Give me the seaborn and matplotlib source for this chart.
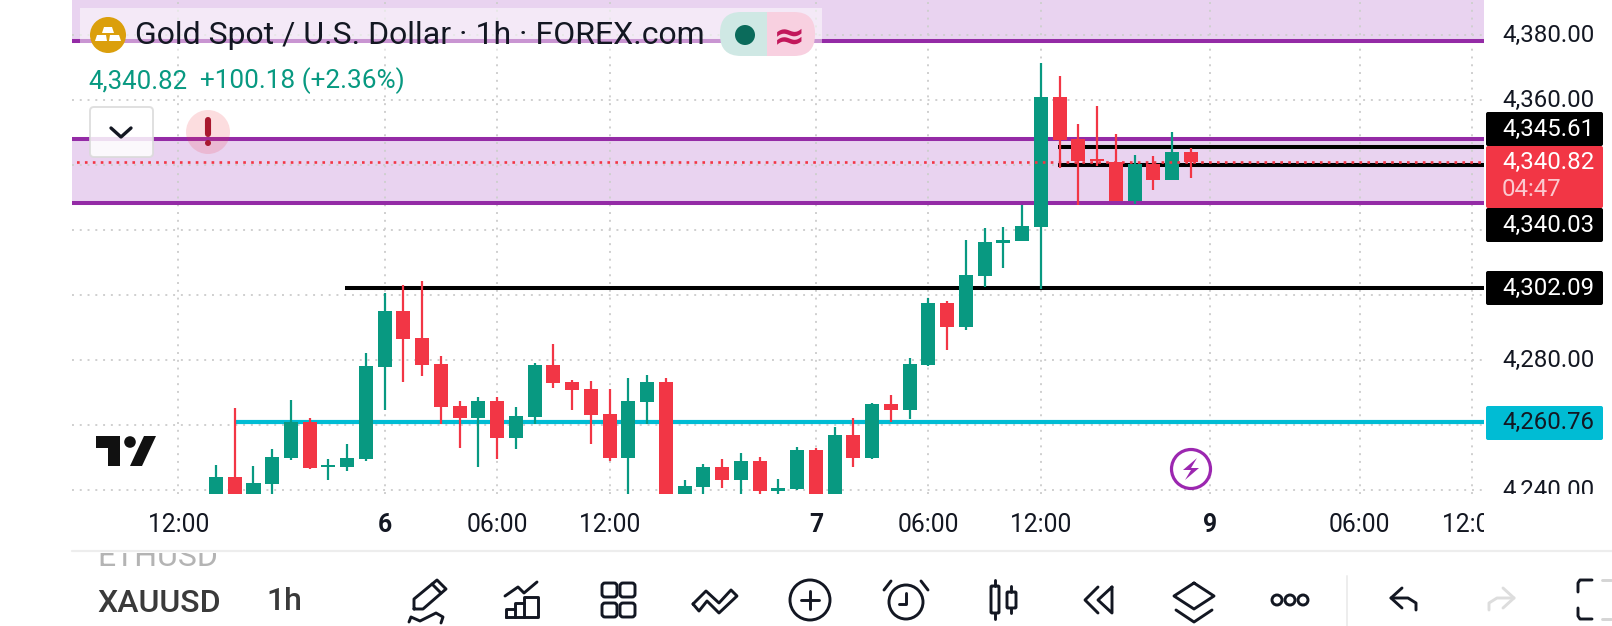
import pandas as pd
import matplotlib
matplotlib.use("Agg")
import matplotlib.pyplot as plt
import seaborn as sns
from matplotlib.patches import Circle, FancyBboxPatch, Polygon, Rectangle
from matplotlib.transforms import Bbox, ScaledTranslation

# --- candle values (bar number = hours on the 1h axis) ---
opens = [4237.5, 4243.94, 4237.5, 4241.79, 4249.79, 4260.86, 4247.0, 4247.02, 4249.48, 4277.79,
         4295.02, 4286.71, 4278.71, 4265.79, 4262.09, 4267.33, 4255.94, 4262.40, 4278.40, 4273.17,
         4271.02, 4263.33, 4249.79, 4267.02, 4273.17, 4237.5, 4240.86, 4247.02, 4243.02, 4248.86,
         4239.63, 4240.25, 4252.25, 4237.5, 4256.86, 4249.79, 4266.40, 4264.56, 4278.40, 4297.48,
         4290.09, 4305.78, 4316.04, 4316.55, 4320.86, 4360.86, 4347.94, 4341.9, 4340.86, 4328.86,
         4340.24, 4335.32, 4343.94]
highs = [4247.63, 4265.07, 4247.33, 4252.56, 4267.63, 4262.09, 4249.48, 4254.09, 4282.09, 4300.56,
         4303.02, 4304.25, 4281.17, 4267.33, 4268.56, 4268.56, 4265.48, 4279.02, 4284.86, 4273.79,
         4273.48, 4271.02, 4274.40, 4275.33, 4274.40, 4243.02, 4247.94, 4249.48, 4251.33, 4250.10,
         4243.33, 4253.17, 4252.86, 4259.33, 4261.99, 4266.60, 4269.17, 4280.56, 4299.02, 4298.09,
         4316.86, 4320.45, 4320.86, 4327.63, 4371.32, 4367.32, 4352.55, 4358.09, 4349.47, 4343.01,
         4342.70, 4350.09, 4345.17]
lows = [4236.0, 4236.0, 4236.0, 4238.0, 4249.17, 4246.40, 4243.02, 4245.79, 4248.86, 4264.56,
        4273.17, 4275.02, 4260.25, 4252.86, 4247.02, 4249.48, 4252.56, 4260.25, 4271.33, 4264.56,
        4254.09, 4248.86, 4236.0, 4260.25, 4236.0, 4236.5, 4238.5, 4240.56, 4238.0, 4238.0,
        4238.0, 4240.0, 4236.5, 4236.5, 4247.02, 4249.48, 4260.86, 4261.79, 4278.09, 4283.02,
        4289.17, 4302.50, 4308.24, 4316.55, 4301.78, 4339.01, 4327.63, 4339.63, 4328.86, 4327.94,
        4332.24, 4335.32, 4335.94]
closes = [4243.94, 4237.5, 4242.09, 4250.09, 4260.86, 4246.71, 4247.63, 4249.79, 4278.09, 4295.02,
          4286.40, 4278.40, 4265.48, 4262.09, 4267.33, 4255.94, 4262.71, 4278.40, 4272.86, 4270.71,
          4263.02, 4249.79, 4267.33, 4273.17, 4237.5, 4241.17, 4247.02, 4243.02, 4248.86, 4239.63,
          4240.56, 4252.25, 4237.5, 4256.86, 4249.79, 4266.40, 4264.56, 4278.71, 4297.48, 4290.09,
          4306.09, 4316.24, 4316.86, 4321.17, 4360.86, 4347.63, 4341.17, 4341.2, 4328.86, 4340.24,
          4335.32, 4343.94, 4340.82]

# horizontal levels drawn on the chart
purple_levels = [4378.09, 4347.94, 4328.25]
black_levels = [4345.61, 4340.03, 4302.09]
black_starts = [44.9, 44.9, 6.9]
cyan_level = 4260.76
cyan_start = 1
last_price = 4340.82

# axis ticks; the other price labels sit behind the tags in the picture
price_ticks = [4240, 4260, 4280, 4300, 4320, 4340, 4360, 4380]
shown_prices = [4240, 4280, 4360, 4380]
time_ticks = [-2, 9, 15, 21, 32, 38, 44, 53, 61, 67]
time_labels = ["12:00", "6", "06:00", "12:00", "7", "06:00", "12:00", "9", "06:00", "12:00"]
day_labels = ["6", "7", "9"]

GREEN = "#089981"
RED = "#F23645"
PURPLE = "#942BA6"
BAND = "#E9D3F0"
CYAN = "#00BCD4"
INK = "#131722"
W, H = 1612, 626
CHART_L, CHART_R, CHART_B = 72, 1484, 494

sns.set_theme(style="white")
plt.rcParams["font.family"] = ["Roboto", "DejaVu Sans"]

fig = plt.figure(figsize=(W / 100, H / 100), dpi=100, facecolor="white")
ax = fig.add_axes([CHART_L / W, 1 - CHART_B / H, (CHART_R - CHART_L) / W, CHART_B / H])

candles = pd.DataFrame({"bar": range(len(opens)), "open": opens, "high": highs,
                        "low": lows, "close": closes})
candles["up"] = candles["close"] >= candles["open"]
candles["edge"] = candles[["open", "close"]].min(axis=1)
candles["body"] = (candles["open"] - candles["close"]).abs()
wicks = candles.melt(id_vars=["bar", "up"], value_vars=["high", "low"], value_name="price")

# bands and level lines sit under the candles
ax.axhspan(purple_levels[2], purple_levels[1], color=BAND, lw=0, zorder=0.4)
ax.axhspan(purple_levels[0], 4400, color=BAND, lw=0, zorder=0.4)
for level in purple_levels:
    ax.axhline(level, color=PURPLE, lw=2.9, zorder=1)
for level, start in zip(black_levels, black_starts):
    ax.plot([start, 70], [level, level], color="black", lw=2.9, zorder=1.2, solid_capstyle="butt")
ax.plot([cyan_start, 70], [cyan_level, cyan_level], color=CYAN, lw=3.0, zorder=1.2, solid_capstyle="butt")

for is_up, colour in [(True, GREEN), (False, RED)]:
    sns.lineplot(data=wicks[wicks["up"] == is_up], x="bar", y="price", units="bar", estimator=None,
                 color=colour, linewidth=1.6, solid_capstyle="butt", legend=False, ax=ax, zorder=3)
    part = candles[candles["up"] == is_up]
    sns.barplot(data=part, x="bar", y="body", bottom=part["edge"].values, native_scale=True,
                width=14 / 18.75, color=colour, saturation=1, errorbar=None, linewidth=0, ax=ax, zorder=4)

ax.plot([-10, 70], [last_price, last_price], color=RED, lw=1.9, ls=(0, (1, 2)), zorder=5)

ax.set_xlim((CHART_L - 216) / 18.75, (CHART_R - 216) / 18.75)
ax.set_ylim(4300 + (294.8 - CHART_B) / 3.25, 4300 + 294.8 / 3.25)
ax.set_xlabel("")
ax.set_ylabel("")
ax.set_axisbelow(True)
ax.grid(True, color="#CFCFCF", lw=1.4, ls=(0, (1, 3)))
for side in ax.spines.values():
    side.set_visible(False)
ax.yaxis.tick_right()
ax.set_yticks(price_ticks)
ax.set_yticklabels([f"{p:,.2f}" if p in shown_prices else "" for p in price_ticks])
ax.set_xticks(time_ticks)
ax.set_xticklabels(time_labels)
ax.tick_params(axis="y", length=0, pad=13, labelsize=17.3, labelcolor=INK)
ax.tick_params(axis="x", length=0, pad=14, labelsize=17.7, labelcolor=INK)
for label in ax.get_xticklabels():
    if label.get_text() in day_labels:
        label.set_fontweight("bold")
    label.set_clip_on(True)
    label.set_clip_box(Bbox([[0, 0], [CHART_R, H]]))
for label in ax.get_yticklabels():
    label.set_transform(label.get_transform() + ScaledTranslation(0, 2 / 100, fig.dpi_scale_trans))
    label.set_clip_on(True)
    label.set_clip_box(Bbox([[0, H - CHART_B], [W, H]]))

# everything around the chart is screen furniture, placed in picture pixels
over = fig.add_axes([0, 0, 1, 1], zorder=10)
over.set_xlim(0, W)
over.set_ylim(H, 0)
over.axis("off")


def stroke(xs, ys, color=INK, lw=2.1):
    over.plot(xs, ys, color=color, lw=lw, solid_capstyle="round", solid_joinstyle="round")


def rbox(x0, y0, x1, y1, r, **kw):
    p = FancyBboxPatch((x0, y0), x1 - x0, y1 - y0, boxstyle=f"round,pad=0,rounding_size={r}", **kw)
    over.add_patch(p)
    return p


# legend block
over.add_patch(Rectangle((80, 8), 742, 48, color="white", alpha=0.5, lw=0))
over.add_patch(Circle((108, 35), 18, color="#DB9F0C", lw=0))
over.add_patch(Polygon([(104, 27), (112, 27), (114, 33), (102, 33)], color="white", lw=0))
over.add_patch(Polygon([(97, 35), (106, 35), (107, 41), (95, 41)], color="white", lw=0))
over.add_patch(Polygon([(110, 35), (119, 35), (121, 41), (109, 41)], color="white", lw=0))
over.text(135, 36, "Gold Spot / U.S. Dollar · 1h · FOREX.com", fontsize=23, color=INK, va="center")
pill = rbox(720, 12, 815, 56, 21, fc="none", ec="none")
left = Rectangle((720, 12), 47, 44, color="#CFE8E4", lw=0)
right = Rectangle((767, 12), 48, 44, color="#F8D0E0", lw=0)
for half in (left, right):
    over.add_patch(half)
    half.set_clip_path(pill)
over.add_patch(Circle((745, 35), 10, color="#0B6B5B", lw=0))
over.text(789, 37, "≈", fontsize=28, color="#C2185B", ha="center", va="center", fontweight="bold",
          family=["DejaVu Sans"])
over.text(88, 81, f"{last_price:,.2f}", fontsize=18.6, color=GREEN, va="center")
over.text(200, 81, "+100.18 (+2.36%)", fontsize=18.8, color=GREEN, va="center")

# collapse button and warning badge
rbox(90, 107, 153, 157, 4, fc="white", ec="#DADADA", lw=1.4, alpha=0.85)
stroke([111, 121, 131], [128, 137, 128], lw=2.4)
over.add_patch(Circle((208, 132), 22, color=RED, alpha=0.17, lw=0))
stroke([208, 208], [120, 134], color="#A8182F", lw=4.4)
over.add_patch(Circle((208, 143), 3, color="#A8182F", lw=0))

# TradingView mark
over.add_patch(Polygon([(96, 436), (120, 436), (120, 466), (108, 466), (108, 448), (96, 448)], color="#111111", lw=0))
over.add_patch(Circle((130, 442), 5.8, color="#111111", lw=0))
over.add_patch(Polygon([(144, 436), (156, 436), (142, 466), (130, 466)], color="#111111", lw=0))

# flash badge
over.add_patch(Circle((1191, 469), 19.5, fc="none", ec="#9C27B0", lw=2.3))
over.add_patch(Polygon([(1197, 458), (1183, 470), (1191, 470), (1185, 480), (1199, 468), (1191, 468)],
                       color="#9C27B0", lw=0))

# price tags on the right axis
def tag(y0, y1, colour):
    rbox(1486, y0, 1603, y1, 2, fc=colour, ec="none")


def tag_text(y, text, colour="white"):
    over.text(1502, y, text, fontsize=17.3, color=colour, va="center")


tag(112, 146, "black")
tag(146, 208, RED)
tag(208, 242, "black")
tag(271, 305, "black")
tag(406, 440, CYAN)
tag_text(129, f"{black_levels[0]:,.2f}")
tag_text(162, f"{last_price:,.2f}")
tag_text(190, "04:47", "#FBC9CF")
tag_text(225, f"{black_levels[1]:,.2f}")
tag_text(288, f"{black_levels[2]:,.2f}")
tag_text(422, f"{cyan_level:,.2f}", INK)

# bottom toolbar
stroke([72, W], [551, 551], color="#EDEDED", lw=1.6)
eth = over.text(97, 557, "ETHUSD", fontsize=23, color="#B4B4B4", va="center")
eth.set_clip_on(True)
eth.set_clip_box(Bbox([[0, 0], [W, H - 553]]))
over.text(97, 604, "XAUUSD", fontsize=23, color="#3A3A3A", va="center", fontweight="medium")
over.text(266, 601, "1h", fontsize=23, color="#3A3A3A", va="center", fontweight="medium")

# pencil
stroke([414, 414, 437, 446, 423, 414], [609, 599, 580, 589, 609, 609])
stroke([432, 441], [584, 593])
stroke([409, 411, 420, 428, 436, 443, 441], [622, 617, 621, 617, 613, 617, 623])
# indicators
stroke([505, 518, 524, 537], [596, 587, 593, 582])
stroke([506, 506, 515, 515, 524, 524, 538, 538, 506], [617, 609, 609, 603, 603, 597, 597, 617, 617])
stroke([515, 515], [609, 617])
stroke([524, 524], [603, 617])
# templates
for gx in (602, 620):
    for gy in (583, 603):
        rbox(gx, gy, gx + 15, gy + 14, 3, fc="none", ec=INK, lw=2.1)
# drawing favourites
stroke([693, 706, 719, 731, 737, 719, 707, 699, 693], [604, 591, 603, 590, 596, 613, 601, 611, 604])
# plus
over.add_patch(Circle((810, 600), 20, fc="none", ec=INK, lw=2.1))
stroke([801, 819], [600, 600])
stroke([810, 810], [591, 609])
# alarm
over.add_patch(Circle((906, 602), 17, fc="none", ec=INK, lw=2.1))
stroke([906, 906, 899], [593, 604, 604])
stroke([884, 891], [590, 581])
stroke([928, 921], [590, 581])
# candle type
rbox(991, 586, 999, 613, 1, fc="none", ec=INK, lw=2.1)
rbox(1007, 592, 1016, 608, 1, fc="none", ec=INK, lw=2.1)
stroke([995, 995], [580, 586])
stroke([995, 995], [613, 619])
stroke([1011, 1011], [586, 592])
stroke([1011, 1011], [608, 613])
# replay
stroke([1112, 1098, 1112, 1112], [587, 600, 613, 587])
stroke([1098, 1085, 1098], [587, 600, 613])
# layers
stroke([1194, 1214, 1194, 1174, 1194], [583, 596, 609, 596, 583])
stroke([1176, 1194, 1212], [610, 622, 610])
# more
for cx in (1277, 1290, 1303):
    over.add_patch(Circle((cx, 600), 5, fc="none", ec=INK, lw=2.1))
# divider, undo, redo, fullscreen
stroke([1347, 1347], [576, 626], color="#EDEDED", lw=1.4)
stroke([1402, 1391, 1402], [588, 598, 608])
stroke([1391, 1408, 1416, 1416], [598, 598, 603, 610])
stroke([1503, 1514, 1503], [588, 598, 608], color="#DDDDDD")
stroke([1514, 1497, 1489, 1489], [598, 598, 603, 610], color="#DDDDDD")
stroke([1592, 1580, 1578, 1578], [580, 580, 583, 592])
stroke([1592, 1580, 1578, 1578], [619, 619, 616, 608])
stroke([1602, 1611], [580, 580], color="#D5D5D5")
stroke([1602, 1611], [619, 619], color="#D5D5D5")

fig.savefig("out.png", dpi=100)
